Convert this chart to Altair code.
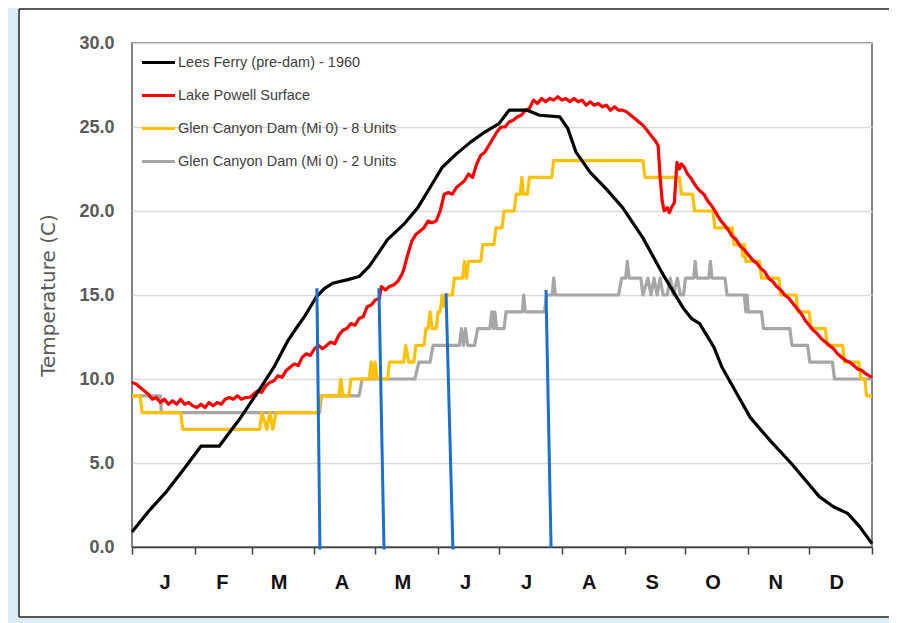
import altair as alt
import pandas as pd

# ---------------- data ----------------
months = ["J", "F", "M", "A", "M", "J", "J", "A", "S", "O", "N", "D"]
month_starts = [0, 31, 59, 90, 120, 151, 181, 212, 243, 273, 304, 334, 365]
y_ticks = [0, 5, 10, 15, 20, 25, 30]

series_names = [
    "Lees Ferry (pre-dam) - 1960",
    "Lake Powell Surface",
    "Glen Canyon Dam (Mi 0) - 8 Units",
    "Glen Canyon Dam (Mi 0) - 2 Units",
]
series_colors = ["#000000", "#ff0000", "#ffc000", "#a6a6a6"]
series_widths = [3.2, 3.2, 3.2, 2.2]

lees_day = [0, 8, 17, 26, 34, 43, 53, 63.6, 70, 77, 82, 85, 88, 91, 95, 99, 106, 112, 117,
            121, 126, 134, 141, 147, 153, 160, 167, 174, 181, 186, 195, 201, 211, 215, 219,
            226, 234, 242, 252, 262, 272, 276, 280, 287, 291, 298, 305, 315, 325, 332, 339,
            346, 353, 359, 365]
lees_temp = [0.9, 2.1, 3.3, 4.7, 6.0, 6.0, 7.6, 9.5, 10.7, 12.3, 13.2, 13.7, 14.3, 14.9, 15.4,
             15.7, 15.9, 16.1, 16.7, 17.4, 18.3, 19.2, 20.2, 21.4, 22.6, 23.4, 24.1, 24.7, 25.2,
             26.0, 26.0, 25.7, 25.6, 24.9, 23.5, 22.3, 21.3, 20.2, 18.4, 16.2, 14.2, 13.6, 13.3,
             11.9, 10.7, 9.2, 7.7, 6.3, 5.0, 4.0, 3.0, 2.4, 2.0, 1.2, 0.2]

powell_day = [0, 2, 4, 6, 8, 10, 12, 14, 16, 18, 20, 22, 24, 26, 28, 30, 32, 34, 36, 38, 40,
              42, 44, 46, 48, 50, 52, 54, 56, 58, 60, 62, 64, 66, 68, 70, 72, 74, 76, 78, 80,
              82, 84, 86, 88, 90, 92, 94, 96, 98, 100, 102, 104, 106, 108, 110, 112, 114, 116,
              118, 120, 122, 123, 125, 127, 129, 131, 133, 134, 136, 138, 140, 142, 144, 146,
              148, 150, 152, 154, 156, 158, 160, 162, 164, 166, 168, 170, 172, 174, 176, 178,
              180, 182, 184, 186, 188, 190, 192, 194, 196, 198, 200, 202, 204, 206, 208, 210,
              212, 214, 216, 218, 220, 222, 224, 226, 228, 230, 232, 234, 236, 238, 240, 242,
              244, 246, 248, 250, 252, 254, 256, 258, 259.5, 260.5, 261.5, 262.5, 264, 265,
              266.5, 267.5, 268.3, 268.8, 270, 271, 272.5, 274, 276, 278, 280, 282, 284, 286,
              288, 290, 292, 294, 296, 298, 300, 302, 304, 306, 308, 310, 312, 314, 316, 318,
              320, 322, 324, 326, 328, 330, 332, 334, 336, 338, 340, 342, 344, 346, 348, 350,
              352, 354, 356, 358, 360, 362, 365]
powell_temp = [9.8, 9.7, 9.5, 9.3, 9.1, 8.8, 8.9, 8.6, 8.8, 8.5, 8.7, 8.5, 8.8, 8.5, 8.6, 8.4,
               8.3, 8.5, 8.3, 8.6, 8.4, 8.6, 8.5, 8.8, 8.9, 8.8, 9.0, 8.8, 8.9, 8.9, 9.1, 9.3,
               9.2, 9.6, 9.8, 9.9, 10.2, 10.1, 10.5, 10.7, 10.9, 10.8, 11.3, 11.5, 11.4, 11.8,
               12.0, 11.8, 12.0, 12.2, 12.1, 12.6, 12.9, 13.0, 13.3, 13.2, 13.6, 13.7, 14.3,
               14.4, 14.7, 14.8, 15.5, 15.3, 15.5, 15.6, 15.8, 16.2, 16.5, 17.4, 18.2, 18.6,
               18.8, 19.0, 19.4, 19.3, 19.4, 20.0, 21.0, 21.1, 21.0, 21.4, 21.6, 21.8, 22.2,
               22.0, 22.8, 23.3, 23.5, 23.9, 24.3, 24.7, 25.0, 25.0, 25.3, 25.4, 25.6, 25.7,
               26.0, 26.1, 26.6, 26.4, 26.7, 26.5, 26.7, 26.6, 26.8, 26.6, 26.7, 26.5, 26.7,
               26.5, 26.6, 26.3, 26.5, 26.3, 26.4, 26.2, 26.3, 26.0, 26.2, 26.0, 26.0, 25.9,
               25.7, 25.5, 25.3, 25.1, 24.8, 24.5, 24.2, 23.9, 22.0, 20.6, 20.0, 20.2, 19.9,
               20.3, 20.5, 22.0, 22.9, 22.5, 22.8, 22.6, 22.2, 21.9, 21.5, 21.2, 21.0, 20.6,
               20.3, 19.9, 19.5, 19.2, 18.9, 18.5, 18.3, 17.9, 17.7, 17.4, 17.1, 16.9, 16.6,
               16.4, 16.0, 15.8, 15.5, 15.3, 15.0, 14.8, 14.5, 14.2, 13.9, 13.5, 13.2, 12.9,
               12.7, 12.4, 12.2, 12.0, 11.8, 11.5, 11.3, 11.1, 11.0, 10.8, 10.6, 10.5, 10.3,
               10.1]

dam8_day = [0, 4, 5, 24, 25, 63, 64, 66.5, 68, 69.5, 71, 92, 93, 102, 103, 104, 107, 108, 117,
            118, 119, 120, 121, 126, 127, 134, 135, 136.5, 139, 140, 144, 145, 146, 147, 148,
            150, 151, 152, 153, 154, 155, 158, 159, 163, 164, 165, 166, 172, 173, 178.5, 179.5,
            182.5, 183.5, 188.5, 189.5, 191.5, 192.3, 193, 195, 196, 207, 208, 252, 253, 270,
            271, 276.5, 277.5, 286.5, 287.5, 296, 297, 300.5, 301.3, 302, 302.8, 309.5, 310.5,
            319, 320, 327.5, 328.5, 334, 335, 342, 343, 350.5, 351.5, 358.5, 359.5, 361.5,
            362.3, 365]
dam8_temp = [9, 9, 8, 8, 7, 7, 8, 7, 8, 7, 8, 8, 9, 9, 10, 9, 9, 10, 10, 11, 10, 11, 10, 10, 11,
             11, 12, 11, 11, 12, 12, 13, 13, 14, 13, 13, 14, 14, 15, 14.3, 15, 15, 16, 16, 17,
             16, 17, 17, 18, 18, 19, 19, 20, 20, 21, 21, 22, 21, 21, 22, 22, 23, 23, 22, 22, 21,
             21, 20, 20, 19, 19, 18, 18, 17.3, 18, 17, 17, 16, 16, 15, 15, 14, 14, 13, 13, 12,
             12, 11, 11, 10, 10, 9, 9]

dam2_day = [0, 14, 14.5, 92.5, 93.5, 112, 113.5, 139.5, 141.5, 147, 148.5, 161.5, 162.5, 163.5,
            164.5, 165.5, 169, 170.5, 176.5, 177.5, 178.3, 179, 179.8, 183.5, 184.5, 192.5,
            193.2, 194, 203.5, 204.5, 207.3, 208, 208.8, 240, 241.5, 243.5, 244.3, 245.2, 251,
            252, 254.5, 256, 257.5, 259, 260.5, 262, 264, 265.5, 267, 269, 270.5, 272, 273, 277,
            277.8, 278.6, 284.5, 285.3, 286.1, 292.5, 293.5, 302, 302.8, 303.3, 304, 310.5,
            311.5, 324.5, 325.5, 333.3, 334.3, 345.5, 346.5, 365]
dam2_temp = [9, 9, 8, 8, 9, 9, 10, 10, 11, 11, 12, 12, 13, 12, 13, 12, 12, 13, 13, 14, 13, 14,
             13, 13, 14, 14, 15, 14, 14, 15, 15, 16, 15, 15, 16, 16, 17, 16, 16, 15, 16, 15, 16,
             15, 16, 15, 15, 16, 15, 16, 15, 15, 16, 16, 17, 16, 16, 17, 16, 16, 15, 15, 14, 15,
             14, 14, 13, 13, 12, 12, 11, 11, 10, 10]

# blue marker lines (drawn slightly slanted)
blue_day_top = [91.2, 121.8, 154.9, 204.2]
blue_day_bottom = [92.7, 124.3, 158.3, 206.7]
blue_temp_top = [15.4, 15.4, 15.1, 15.3]
blue_temp_bottom = [-0.15, -0.15, -0.15, -0.05]

# ---------------- build tables ----------------
frames = []
for name, days, temps in [
    (series_names[3], dam2_day, dam2_temp),
    (series_names[2], dam8_day, dam8_temp),
    (series_names[1], powell_day, powell_temp),
    (series_names[0], lees_day, lees_temp),
]:
    frames.append(pd.DataFrame({"series": name, "day": days, "temp": temps,
                                "idx": range(len(days))}))
lines_df = pd.concat(frames, ignore_index=True)

blue_df = pd.DataFrame({"d1": blue_day_top, "d2": blue_day_bottom,
                        "t1": blue_temp_top, "t2": blue_temp_bottom})

label_font = "Liberation Sans"

ms = ",".join(str(v) for v in month_starts[:-1])
ml = ",".join("'" + m + "'" for m in months)
label_expr = f"indexof([{ms}], datum.value) >= 0 ? [{ml}][indexof([{ms}], datum.value)] : ''"

x_scale = alt.Scale(domain=[0, 365], nice=False, zero=False)
y_scale = alt.Scale(domain=[0, 30], nice=False)

x_axis = alt.Axis(values=month_starts, labelExpr=label_expr, labelOffset=27, labelFontSize=20,
                  labelFont=label_font, labelFontWeight="bold", labelColor="#111111",
                  labelPadding=18, tickSize=7, tickColor="#404040", tickWidth=1.5,
                  domainColor="#404040", domainWidth=1.5, grid=False, title=None)
y_axis = alt.Axis(values=y_ticks, format=".1f", labelFontSize=18, labelFont=label_font,
                  labelFontWeight="bold", labelColor="#595959", labelPadding=18, ticks=False,
                  domain=False, grid=True, gridColor="#d9d9d9", gridWidth=1.5,
                  title="Temperature (C)", titleFont="DejaVu Sans", titleFontSize=20,
                  titleFontWeight="normal", titleColor="#595959", titlePadding=20)

dummy = pd.DataFrame({"a": [0]})
strip_color = "#dbeef8"
border_color = "#222222"

left_strip = alt.Chart(dummy).mark_rect(color=strip_color).encode(
    x=alt.value(-124), x2=alt.value(-113), y=alt.value(-35), y2=alt.value(580))
bottom_strip = alt.Chart(dummy).mark_rect(color=strip_color).encode(
    x=alt.value(-124), x2=alt.value(770), y=alt.value(574), y2=alt.value(580))
border_left = alt.Chart(dummy).mark_rule(color=border_color, strokeWidth=1.5).encode(
    x=alt.value(-113), y=alt.value(-34), y2=alt.value(574))
border_top = alt.Chart(dummy).mark_rule(color=border_color, strokeWidth=1.5).encode(
    x=alt.value(-113), x2=alt.value(770), y=alt.value(-34))
border_bottom = alt.Chart(dummy).mark_rule(color=border_color, strokeWidth=1.5).encode(
    x=alt.value(-113), x2=alt.value(770), y=alt.value(574))

lines = alt.Chart(lines_df).mark_line(strokeJoin="round").encode(
    x=alt.X("day:Q", scale=x_scale, axis=x_axis),
    y=alt.Y("temp:Q", scale=y_scale, axis=y_axis),
    color=alt.Color("series:N",
                    scale=alt.Scale(domain=series_names, range=series_colors),
                    legend=alt.Legend(title=None, orient="none", legendX=8, legendY=1,
                                      symbolType="stroke", symbolSize=1089,
                                      symbolStrokeWidth=3.5, labelFontSize=14.5,
                                      labelFont=label_font, labelColor="#404040",
                                      labelLimit=0, rowPadding=8, labelOffset=1,
                                      padding=0)),
    strokeWidth=alt.StrokeWidth("series:N",
                                scale=alt.Scale(domain=series_names, range=series_widths),
                                legend=None),
    detail="series:N",
    order=alt.Order("idx:Q"),
)

blue = alt.Chart(blue_df).mark_rule(color="#1a6fd1", strokeWidth=3).encode(
    x="d1:Q", x2="d2:Q", y="t1:Q", y2="t2:Q")

chart = alt.layer(left_strip, bottom_strip, border_left, border_top, border_bottom,
                  lines, blue).properties(
    width=740, height=504,
    autosize=alt.AutoSizeParams(type="none"),
    padding={"left": 124, "top": 35, "right": 17, "bottom": 76},
    background="white",
).configure_view(stroke="#595959", strokeWidth=1.5)

chart.save("out.html", embed_options={"renderer": "svg", "actions": False})
